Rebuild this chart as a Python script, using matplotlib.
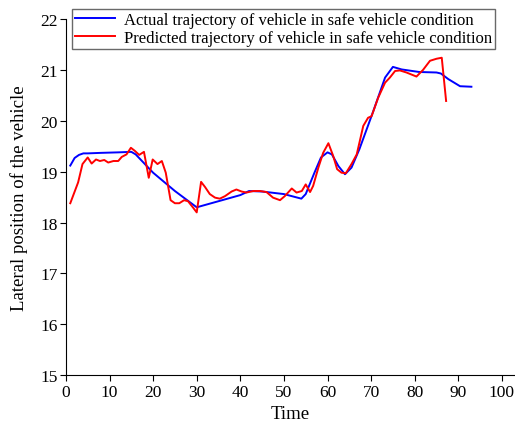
import numpy as np
import matplotlib
matplotlib.use("Agg")
import matplotlib.pyplot as plt

plt.rcParams['font.family'] = ['Liberation Serif', 'DejaVu Serif']

# actual trajectory (blue)
t_actual = [1, 2, 3, 4, 5, 8, 12, 15, 16, 20, 25, 30, 35, 40, 42, 45, 50, 54, 55, 57,
            58.5, 60, 61, 62.5, 64, 65.5, 67.3, 70.5, 73.2, 75, 77, 81, 85, 86, 87.7, 90.4, 93]
y_actual = [19.12, 19.27, 19.33, 19.36, 19.36, 19.37, 19.38, 19.39, 19.34, 18.98, 18.62, 18.30,
            18.42, 18.54, 18.62, 18.61, 18.56, 18.47, 18.56, 18.98, 19.28, 19.38, 19.34, 19.11,
            18.95, 19.08, 19.44, 20.19, 20.85, 21.06, 21.01, 20.96, 20.95, 20.93, 20.82, 20.68, 20.67]

# predicted trajectory (red)
t_pred = [1, 2.8, 3.8, 5, 5.9, 6.9, 7.8, 8.8, 9.7, 10.9, 12, 12.8, 13.9, 14.9, 15.8, 16.8, 17.9,
          19, 19.9, 21, 22, 22.9, 24, 25, 26, 27.1, 28, 29.2, 30, 31, 31.9, 33, 34.2, 35.3, 36.5,
          38, 39.1, 40.3, 41.4, 43, 44.5, 46, 47.5, 49.1, 50.2, 51.8, 52.9, 54.1, 55, 56, 56.7,
          57.9, 59, 60.2, 61.3, 62.2, 63.2, 64.2, 65.5, 66.7, 68.2, 69.3, 70.1, 71.6, 73.2, 74.3,
          75.5, 76.6, 78.1, 80.4, 81.9, 83.5, 85, 86.2, 87.2]
y_pred = [18.38, 18.79, 19.15, 19.28, 19.16, 19.24, 19.21, 19.23, 19.18, 19.21, 19.21, 19.29,
          19.34, 19.47, 19.41, 19.33, 19.39, 18.88, 19.24, 19.15, 19.21, 18.98, 18.44, 18.38,
          18.38, 18.44, 18.42, 18.29, 18.20, 18.80, 18.70, 18.56, 18.49, 18.47, 18.52, 18.61,
          18.65, 18.61, 18.59, 18.62, 18.62, 18.60, 18.49, 18.44, 18.52, 18.67, 18.59, 18.62,
          18.75, 18.60, 18.72, 19.08, 19.37, 19.56, 19.31, 19.05, 18.98, 18.97, 19.15, 19.34,
          19.90, 20.06, 20.09, 20.45, 20.75, 20.85, 20.98, 20.99, 20.95, 20.87, 21.00, 21.18,
          21.22, 21.24, 20.39]

x_ticks = list(range(0, 101, 10))
y_ticks = list(range(15, 23))

fig = plt.figure(figsize=(5.15, 4.27), dpi=100)
ax = fig.add_axes([0.128, 0.119, 0.872, 0.834])

ax.plot(t_actual, y_actual, color='#0000ff', lw=1.4,
        label='Actual trajectory of vehicle in safe vehicle condition')
ax.plot(t_pred, y_pred, color='#ff0000', lw=1.4,
        label='Predicted trajectory of vehicle in safe vehicle condition')

ax.set_xlim(0, 103)
ax.set_ylim(15, 22)
ax.set_xticks(x_ticks)
ax.set_yticks(y_ticks)
ax.tick_params(direction='out', length=4, labelsize=12.5, pad=2)
ax.spines['top'].set_visible(False)
ax.spines['right'].set_visible(False)
ax.set_xlabel('Time', fontsize=13.5, labelpad=4)
ax.set_ylabel('Lateral position of the vehicle', fontsize=13.5, labelpad=9)

leg = fig.legend(loc='upper left', bbox_to_anchor=(0.14, 0.977), fontsize=12,
                 frameon=True, fancybox=False, handlelength=2.4, borderpad=0.2,
                 labelspacing=0.1, handletextpad=0.5, borderaxespad=0)
leg.get_frame().set_edgecolor('#444444')
leg.get_frame().set_linewidth(1.0)

fig.savefig('out.png', dpi=100)
